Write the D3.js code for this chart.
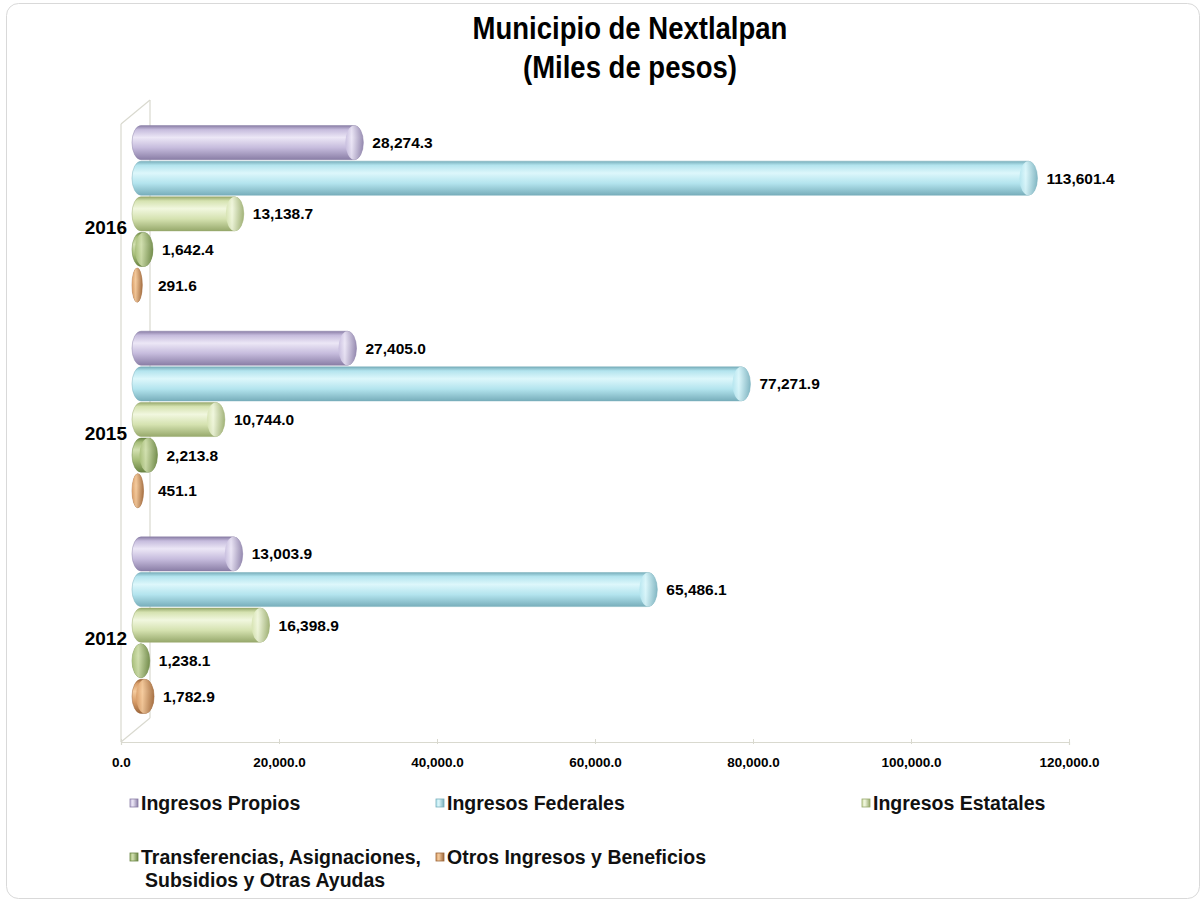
<!DOCTYPE html>
<html>
<head>
<meta charset="utf-8">
<script src="https://cdn.jsdelivr.net/npm/d3@7"></script>
<style>
  body { margin: 0; background: #ffffff; }
  svg { display: block; }
</style>
</head>
<body>
<div id="chart"></div>
<script>
// Chart data (miles de pesos)
var years = ["2016", "2015", "2012"];
var seriesNames = ["Ingresos Propios", "Ingresos Federales", "Ingresos Estatales",
                   "Transferencias, Asignaciones, Subsidios y Otras Ayudas", "Otros Ingresos y Beneficios"];
var propios = [28274.3, 27405.0, 13003.9];
var federales = [113601.4, 77271.9, 65486.1];
var estatales = [13138.7, 10744.0, 16398.9];
var transferencias = [1642.4, 2213.8, 1238.1];
var otros = [291.6, 451.1, 1782.9];
var xTicks = [0, 20000, 40000, 60000, 80000, 100000, 120000];

var seriesValues = [propios, federales, estatales, transferencias, otros];

// colours for each series: base, light highlight, dark edge
var palette = [
  { base: "#c6bcdd", light: "#ece7f6", dark: "#8a7ea6" },
  { base: "#b3e4ee", light: "#ddf7fb", dark: "#78aebb" },
  { base: "#d5e2b0", light: "#f1f7df", dark: "#97a96c" },
  { base: "#a6bd78", light: "#d2e0b0", dark: "#6a8444" },
  { base: "#d89d68", light: "#f5cc9f", dark: "#9c663a" }
];

var width = 1203;
var height = 901;

var svg = d3.select("#chart").append("svg")
  .attr("width", width)
  .attr("height", height);

// outer frame
svg.append("rect")
  .attr("x", 6.5).attr("y", 3.5)
  .attr("width", 1193).attr("height", 895)
  .attr("rx", 12)
  .attr("fill", "#ffffff")
  .attr("stroke", "#d9d9d9")
  .attr("stroke-width", 1);

// gradients for the cylinder look
var defs = svg.append("defs");
palette.forEach(function(c, i) {
  var g = defs.append("linearGradient")
    .attr("id", "cyl" + i)
    .attr("x1", 0).attr("y1", 0).attr("x2", 0).attr("y2", 1);
  g.append("stop").attr("offset", "0%").attr("stop-color", c.dark);
  g.append("stop").attr("offset", "12%").attr("stop-color", c.base);
  g.append("stop").attr("offset", "35%").attr("stop-color", c.light);
  g.append("stop").attr("offset", "65%").attr("stop-color", c.base);
  g.append("stop").attr("offset", "100%").attr("stop-color", c.dark);

  var cap = defs.append("linearGradient")
    .attr("id", "cap" + i)
    .attr("x1", 0).attr("y1", 0).attr("x2", 1).attr("y2", 0);
  cap.append("stop").attr("offset", "0%").attr("stop-color", c.base);
  cap.append("stop").attr("offset", "35%").attr("stop-color", c.light);
  cap.append("stop").attr("offset", "100%").attr("stop-color", c.dark);
});

// Title (condensed look: squeeze a bold font horizontally)
var title = svg.append("text")
  .attr("transform", "translate(630,0) scale(0.86,1)")
  .attr("text-anchor", "middle")
  .attr("font-family", "'Liberation Sans', Arial, sans-serif")
  .attr("font-weight", "bold")
  .attr("font-size", "32px")
  .attr("fill", "#000");
title.append("tspan").attr("x", 0).attr("y", 39).text("Municipio de Nextlalpan");
title.append("tspan").attr("x", 0).attr("y", 78).text("(Miles de pesos)");

// Scales
var plotLeft = 121;
var plotRight = 1069;
var axisY = 742;
var depthX = 29;   // 3D wall depth
var depthY = 24;
var barShift = 19; // bars sit in the middle of the depth

var xScale = d3.scaleLinear()
  .domain([0, 120000])
  .range([plotLeft, plotRight]);

var yScale = d3.scaleBand()
  .domain(years)
  .range([111, 728])
  .paddingInner(0.134)
  .paddingOuter(0.067);

var subScale = d3.scaleBand()
  .domain(d3.range(seriesNames.length))
  .range([0, yScale.bandwidth()]);

// 3D walls
var wallColor = "#d9d9cf";
var walls = svg.append("g")
  .attr("fill", "none")
  .attr("stroke", wallColor)
  .attr("stroke-width", 1.2);
walls.append("line") // back wall edge
  .attr("x1", plotLeft + depthX).attr("y1", 100)
  .attr("x2", plotLeft + depthX).attr("y2", axisY - depthY);
walls.append("line") // front left edge
  .attr("x1", plotLeft).attr("y1", 100 + depthY)
  .attr("x2", plotLeft).attr("y2", axisY);
walls.append("line") // top diagonal
  .attr("x1", plotLeft).attr("y1", 100 + depthY)
  .attr("x2", plotLeft + depthX).attr("y2", 100);
walls.append("line") // bottom diagonal
  .attr("x1", plotLeft).attr("y1", axisY)
  .attr("x2", plotLeft + depthX).attr("y2", axisY - depthY);

// X axis
var xAxis = svg.append("g")
  .attr("transform", "translate(0," + axisY + ")")
  .call(d3.axisBottom(xScale)
    .tickValues(xTicks)
    .tickSize(3)
    .tickPadding(12)
    .tickFormat(d3.format(",.1f")));
xAxis.select(".domain").attr("stroke", wallColor).attr("stroke-width", 1.2);
xAxis.selectAll(".tick line").attr("stroke", wallColor).attr("y1", -3).attr("y2", 2);
xAxis.selectAll("text")
  .attr("font-family", "'Liberation Sans', Arial, sans-serif")
  .attr("font-weight", "bold")
  .attr("font-size", "13.5px")
  .attr("fill", "#000");

// Year labels
svg.selectAll(".year-label")
  .data(years)
  .enter().append("text")
  .attr("class", "year-label")
  .attr("x", 127)
  .attr("y", function(d) { return yScale(d) + yScale.bandwidth() / 2 + 20; })
  .attr("text-anchor", "end")
  .attr("font-family", "'Liberation Sans', Arial, sans-serif")
  .attr("font-weight", "bold")
  .attr("font-size", "19px")
  .attr("fill", "#000")
  .text(function(d) { return d; });

// Build bar records
var bars = [];
years.forEach(function(yr, yi) {
  seriesValues.forEach(function(vals, si) {
    bars.push({ year: yr, series: si, value: vals[yi] });
  });
});

var barStart = 132;
var barH = subScale.bandwidth() - 1.5;
var fmt = d3.format(",.1f");

function barEnd(d) { return xScale(d.value) + barShift; }
function capR(d) { return Math.min(9, (barEnd(d) - barStart) / 2); }
function barTop(d) { return yScale(d.year) + subScale(d.series) + 0.75; }

var barGroups = svg.selectAll(".bar")
  .data(bars)
  .enter().append("g")
  .attr("class", "bar");

// cylinder body
barGroups.append("rect")
  .attr("x", barStart)
  .attr("y", barTop)
  .attr("width", function(d) { return barEnd(d) - barStart; })
  .attr("height", barH)
  .attr("rx", capR)
  .attr("ry", barH / 2)
  .attr("fill", function(d) { return "url(#cyl" + d.series + ")"; })
  .attr("stroke", function(d) { return palette[d.series].dark; })
  .attr("stroke-opacity", 0.6)
  .attr("stroke-width", 0.8);

// cylinder end cap
barGroups.append("ellipse")
  .attr("cx", function(d) { return barEnd(d) - capR(d); })
  .attr("cy", function(d) { return barTop(d) + barH / 2; })
  .attr("rx", capR)
  .attr("ry", barH / 2)
  .attr("fill", function(d) { return "url(#cap" + d.series + ")"; })
  .attr("opacity", 0.85);

// value labels
barGroups.append("text")
  .attr("x", function(d) { return Math.max(barEnd(d) + 9, 158); })
  .attr("y", function(d) { return yScale(d.year) + subScale(d.series) + subScale.bandwidth() / 2; })
  .attr("dy", "0.35em")
  .attr("font-family", "'Liberation Sans', Arial, sans-serif")
  .attr("font-weight", "bold")
  .attr("font-size", "15.5px")
  .attr("fill", "#000")
  .text(function(d) { return fmt(d.value); });

// Legend
var legendPos = [
  { x: 130, y: 803, lines: ["Ingresos Propios"] },
  { x: 436, y: 803, lines: ["Ingresos Federales"] },
  { x: 862, y: 803, lines: ["Ingresos Estatales"] },
  { x: 130, y: 857, lines: ["Transferencias, Asignaciones,", "Subsidios y Otras Ayudas"] },
  { x: 436, y: 857, lines: ["Otros Ingresos y Beneficios"] }
];

var legend = svg.selectAll(".legend")
  .data(seriesNames)
  .enter().append("g")
  .attr("class", "legend")
  .attr("transform", function(d, i) {
    return "translate(" + legendPos[i].x + "," + legendPos[i].y + ")";
  });

legend.append("rect")
  .attr("x", 0).attr("y", -4)
  .attr("width", 8).attr("height", 8)
  .attr("fill", function(d, i) { return "url(#cap" + i + ")"; })
  .attr("stroke", function(d, i) { return palette[i].dark; })
  .attr("stroke-width", 0.8);

legend.each(function(d, i) {
  var t = d3.select(this).append("text")
    .attr("font-family", "'Liberation Sans', Arial, sans-serif")
    .attr("font-weight", "bold")
    .attr("font-size", "19.5px")
    .attr("fill", "#111");
  legendPos[i].lines.forEach(function(line, li) {
    t.append("tspan")
      .attr("x", li === 0 ? 11 : 15)
      .attr("y", li * 23)
      .attr("dy", "0.35em")
      .text(line);
  });
});
</script>
</body>
</html>
